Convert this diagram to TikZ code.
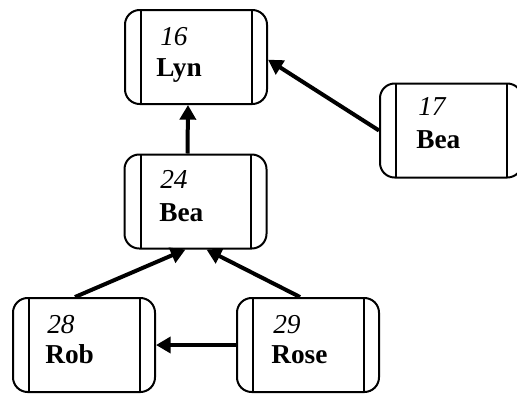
\documentclass[tikz,border=0pt]{standalone}
\usepackage{fontspec}
\setmainfont{Liberation Serif}
\usetikzlibrary{arrows.meta}
\tikzset{
  card/.style={draw, line width=1.5pt, rounded corners=11pt, minimum width=106.5pt, minimum height=70.5pt, inner sep=0pt,
    path picture={
      \draw[line width=1.5pt] ([xshift=12pt]path picture bounding box.north west) -- ([xshift=12pt]path picture bounding box.south west);
      \draw[line width=1.5pt] ([xshift=-11.5pt]path picture bounding box.north east) -- ([xshift=-11.5pt]path picture bounding box.south east);
    }},
  num/.style={anchor=base west, inner sep=0pt, font=\fontsize{20.5}{24}\selectfont\itshape},
  nm/.style={anchor=base west, inner sep=0pt, font=\fontsize{20.5}{24}\selectfont\bfseries},
  arr/.style={line width=3pt, -{Triangle[length=11pt,width=12pt]}}
}
\begin{document}
\begin{tikzpicture}[x=0.75pt,y=-0.75pt]
\useasboundingbox (0,0) rectangle (517,394);
\clip (0,0) rectangle (517,394);
\node[card] (lyn) at (196,57) {};
\node[card] (b24) at (195.5,201.5) {};
\node[card] (b17) at (451,130.5) {};
\node[card] (rob) at (84,345) {};
\node[card] (rose) at (308,345) {};
\node[num] (t16) at (160,45) {16};
\node[nm] (tlyn) at (156,76) {Lyn};
\node[num] (t24) at (160,188) {24};
\node[nm] (tb24) at (159,221) {Bea};
\node[num] (t17) at (418,115) {17};
\node[nm] (tb17) at (416,148) {Bea};
\node[num] (t28) at (47,333) {28};
\node[nm] (trob) at (45,363) {Rob};
\node[num] (t29) at (273,333) {29};
\node[nm] (trose) at (271,363) {Rose};
\draw[arr] ([xshift=-6pt]b24.north) -- ([xshift=-6pt]lyn.south);
\draw[arr] (b17.west) -- ([yshift=-2pt]lyn.east);
\draw[arr] ([xshift=-6.75pt]rob.north) -- ([xshift=-7.5pt]b24.south);
\draw[arr] ([xshift=-6pt]rose.north) -- ([xshift=8.25pt]b24.south);
\draw[arr] (rose.west) -- (rob.east);
\end{tikzpicture}
\end{document}
